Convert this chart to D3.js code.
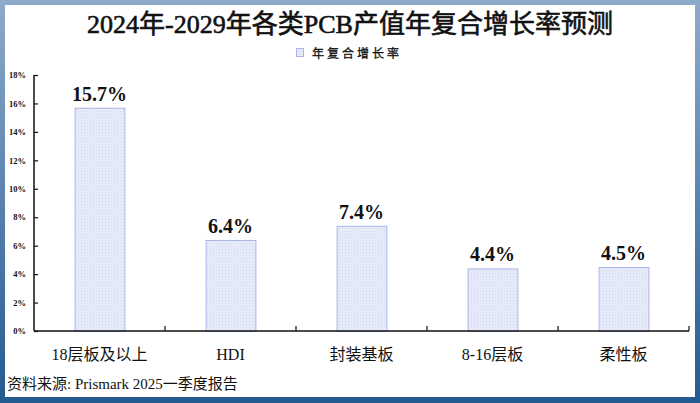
<!DOCTYPE html>
<html><head><meta charset="utf-8">
<script src="https://cdn.jsdelivr.net/npm/d3@7/dist/d3.min.js"></script>
<style>body{margin:0;background:#fff}svg{display:block}</style>
</head><body>
<svg id="c" width="700" height="403"></svg>
<script>
const categories = ["18层板及以上","HDI","封装基板","8-16层板","柔性板"];
const values = [15.7, 6.4, 7.4, 4.4, 4.5];
const yTicks = [0,2,4,6,8,10,12,14,16,18];
const title = "2024年-2029年各类PCB产值年复合增长率预测";
const legendLabel = "年复合增长率";
const source = "资料来源: Prismark 2025一季度报告";

const svg = d3.select("#c");
const W = 700, H = 403;
const serif = "'Liberation Serif','Times New Roman','Noto Sans CJK SC',serif";

const defs = svg.append("defs");
const g = defs.append("linearGradient").attr("id","frame").attr("x1",0).attr("y1",0).attr("x2",0).attr("y2",1);
g.append("stop").attr("offset","0%").attr("stop-color","#8eaacb");
g.append("stop").attr("offset","100%").attr("stop-color","#245a91");
const pat = defs.append("pattern").attr("id","dots").attr("width",3).attr("height",3).attr("patternUnits","userSpaceOnUse");
pat.append("rect").attr("width",3).attr("height",3).attr("fill","#e9ecf9");
pat.append("rect").attr("x",0).attr("y",0).attr("width",1).attr("height",1).attr("fill","#cdd4f1");
pat.append("rect").attr("x",1.5).attr("y",1.5).attr("width",1).attr("height",1).attr("fill","#d6dcf4");

svg.append("rect").attr("width",W).attr("height",H).attr("fill","url(#frame)");
svg.append("rect").attr("x",5).attr("y",5).attr("width",690).attr("height",392).attr("fill","#fff");

const x = d3.scaleBand().domain(categories).range([34,689]).paddingInner(0).paddingOuter(0);
const y = d3.scaleLinear().domain([0,18]).range([331,75]);
const barW = x.bandwidth()*0.38;

// title
svg.append("text").attr("x",350).attr("y",33).attr("text-anchor","middle")
  .attr("font-family",serif).attr("font-size",26).attr("font-weight","normal")
  .attr("fill","#111").attr("stroke","#111").attr("stroke-width",0.6).text(title);

// legend
svg.append("rect").attr("x",296.5).attr("y",48.5).attr("width",7).attr("height",8)
  .attr("fill","url(#dots)").attr("stroke","#aab6ea");
svg.append("text").attr("x",312).attr("y",57.5).attr("font-family",serif).attr("font-size",12)
  .attr("letter-spacing","3px").attr("fill","#111").attr("stroke","#111").attr("stroke-width",0.3).text(legendLabel);

// bars
svg.selectAll("rect.bar").data(values).enter().append("rect").attr("class","bar")
  .attr("x",(d,i)=>x(categories[i])+x.bandwidth()/2-barW/2+0.5)
  .attr("y",d=>y(d)+0.5)
  .attr("width",barW).attr("height",d=>y(0)-y(d))
  .attr("fill","url(#dots)").attr("stroke","#a9b5ea").attr("stroke-width",1);

// value labels
svg.selectAll("text.val").data(values).enter().append("text").attr("class","val")
  .attr("x",(d,i)=>x(categories[i])+x.bandwidth()/2)
  .attr("y",d=>y(d)-7).attr("text-anchor","middle")
  .attr("font-family",serif).attr("font-size",20).attr("font-weight","bold").attr("fill","#111")
  .text(d=>d.toFixed(1)+"%");

// y axis
const yAxis = d3.axisRight(y).tickValues(yTicks).tickSize(4).tickFormat(d=>d+"%");
const ya = svg.append("g").attr("transform","translate(34,0)").call(yAxis);
ya.select(".domain").attr("stroke","#111").attr("stroke-width",1.5).attr("d","M0,75V331");
ya.selectAll(".tick line").attr("stroke","#111").attr("stroke-width",1.2);
ya.selectAll(".tick text").attr("x",-8).attr("text-anchor","end")
  .attr("font-family",serif).attr("font-size",8.5).attr("font-weight","bold").attr("fill","#111");

// x axis
const bounds = categories.map(c=>x(c)+x.bandwidth());
const xa = svg.append("g").attr("transform","translate(0,331)");
xa.append("line").attr("x1",34).attr("x2",689).attr("stroke","#111").attr("stroke-width",1.5);
xa.selectAll("line.tk").data(bounds).enter().append("line").attr("class","tk")
  .attr("x1",d=>d).attr("x2",d=>d).attr("y1",0).attr("y2",-5).attr("stroke","#111").attr("stroke-width",1.2);
const xAxis = d3.axisBottom(x).tickSize(0).tickPadding(0);
const xl = svg.append("g").attr("transform","translate(0,331)").call(xAxis);
xl.select(".domain").remove();
xl.selectAll(".tick text").attr("y",29).attr("dy",0)
  .attr("font-family",serif).attr("font-size",16).attr("fill","#111");

// source
svg.append("text").attr("x",7).attr("y",389).attr("font-family",serif).attr("font-size",15)
  .attr("fill","#111").text(source);
</script>
</body></html>
